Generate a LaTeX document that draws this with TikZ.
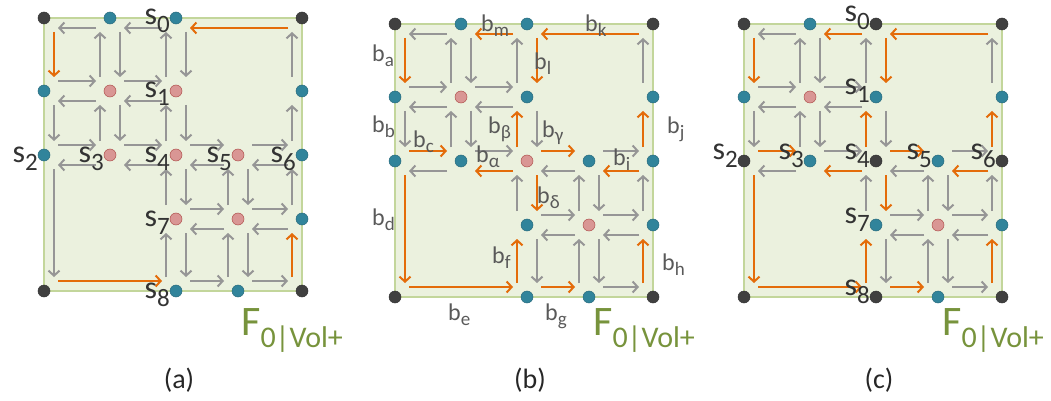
\documentclass[tikz,border=0pt]{standalone}
\usepackage{fontspec}
\setmainfont{Carlito}
\usetikzlibrary{calc,arrows.meta}
\pgfdeclarelayer{bg}
\pgfsetlayers{bg,main}
\definecolor{rectfill}{HTML}{EBF1DE}
\definecolor{rectline}{HTML}{C3D69B}
\definecolor{dkdot}{HTML}{404040}
\definecolor{bldot}{HTML}{31849B}
\definecolor{pkdot}{HTML}{D99694}
\definecolor{pkline}{HTML}{B0504D}
\definecolor{garr}{HTML}{969696}
\definecolor{oarr}{HTML}{E46C0A}
\definecolor{slab}{HTML}{333333}
\definecolor{blab}{HTML}{595959}
\definecolor{flab}{HTML}{77933C}

\newcommand\gapd{14pt}
\newcommand\insd{10pt}
\newcommand\ea[3]{\draw[flowarr, draw=#3] ($(#1.center)!\gapd!(#2.center)!\insd!90:(#2.center)$) -- ($(#2.center)!\gapd!(#1.center)!\insd!-90:(#1.center)$);}
\newcommand\placedots[4]{%
  \foreach \i/\j/\s in {#4}{
    \pgfmathsetmacro\xx{{0,66,132,194,258}[\i]}
    \pgfmathsetmacro\yy{{0,73,137,201,273}[\j]}
    \node[dot\s] (#1\i\j) at ({#2+\xx},{#3+\yy}) {};
  }}
\newcommand\ssub[1]{\raisebox{-8pt}{\fontsize{25}{25}\selectfont #1}}
\newcommand\bsub[1]{\raisebox{-5pt}{\fontsize{19}{19}\selectfont #1}}
\newcommand\fsub[1]{\raisebox{-12pt}{\fontsize{30}{30}\selectfont #1}}

\newcommand\listA{10/00/garr, 00/01/oarr, 01/11/garr, 11/10/garr,
20/10/garr, 10/11/garr, 11/21/garr, 21/20/garr,
11/01/garr, 01/02/garr, 02/12/garr, 12/11/garr,
21/11/garr, 11/12/garr, 12/22/garr, 22/21/garr,
40/20/oarr, 20/21/garr, 21/22/garr, 22/32/garr, 32/42/garr, 42/41/garr, 41/40/garr,
22/12/garr, 12/02/garr, 02/04/garr, 04/24/oarr, 24/23/garr, 23/22/garr,
32/22/garr, 22/23/garr, 23/33/garr, 33/32/garr,
42/32/garr, 32/33/garr, 33/43/garr, 43/42/garr,
33/23/garr, 23/24/garr, 24/34/garr, 34/33/garr,
43/33/garr, 33/34/garr, 34/44/garr, 44/43/oarr}
\newcommand\listBC{10/00/garr, 00/01/oarr, 01/11/garr, 11/10/garr,
20/10/oarr, 10/11/garr, 11/21/garr, 21/20/garr,
11/01/garr, 01/02/garr, 02/12/oarr, 12/11/garr,
21/11/garr, 11/12/garr, 12/22/garr, 22/21/oarr,
40/20/oarr, 20/21/oarr, 21/22/garr, 22/32/oarr, 32/42/garr, 42/41/oarr, 41/40/garr,
22/12/oarr, 12/02/garr, 02/04/oarr, 04/24/oarr, 24/23/oarr, 23/22/garr,
32/22/garr, 22/23/oarr, 23/33/garr, 33/32/garr,
42/32/oarr, 32/33/garr, 33/43/garr, 43/42/garr,
33/23/garr, 23/24/garr, 24/34/oarr, 34/33/garr,
43/33/garr, 33/34/garr, 34/44/garr, 44/43/oarr}

\tikzset{
  dotbase/.style={circle, minimum size=12pt, inner sep=0pt, line width=0.5pt},
  dotdk/.style={dotbase, fill=dkdot, draw=dkdot!80!black},
  dotbl/.style={dotbase, fill=bldot, draw=bldot!80!black},
  dotpk/.style={dotbase, fill=pkdot, draw=pkline},
  panelrect/.style={fill=rectfill, draw=rectline, line width=1.5pt},
  flowarr/.style={line width=2pt, -{Straight Barb[length=5pt,width=11pt]}},
  slabel/.style={inner sep=0pt, text=slab, font=\fontsize{32}{32}\selectfont, anchor=base east},
  blabel/.style={inner sep=0pt, text=blab, font=\fontsize{24}{24}\selectfont, anchor=base west},
  flabel/.style={inner sep=0pt, text=flab, font=\fontsize{42}{42}\selectfont, anchor=base west},
  caption/.style={inner sep=0pt, text=black!85, font=\fontsize{28}{28}\selectfont, anchor=base},
}

\begin{document}
\begin{tikzpicture}[x=1pt,y=-1pt]
\useasboundingbox (0,0) rectangle (1051,401);

% ---------- panel (a)
\placedots{a}{44}{18}{0/0/dk,1/0/bl,2/0/bl,4/0/dk,0/1/bl,1/1/pk,2/1/pk,4/1/bl,0/2/bl,1/2/pk,2/2/pk,3/2/pk,4/2/bl,2/3/pk,3/3/pk,4/3/bl,0/4/dk,2/4/bl,3/4/bl,4/4/dk}
\begin{pgfonlayer}{bg}
\draw[panelrect] (a00.center) rectangle (a44.center);
\end{pgfonlayer}
\foreach \p/\q/\s in \listA {\ea{a\p}{a\q}{\s}}

% ---------- panel (b)
\placedots{b}{395}{24}{0/0/dk,1/0/bl,2/0/bl,4/0/dk,0/1/bl,1/1/pk,2/1/bl,4/1/bl,0/2/bl,1/2/bl,2/2/pk,3/2/bl,4/2/bl,2/3/bl,3/3/pk,4/3/bl,0/4/dk,2/4/bl,3/4/bl,4/4/dk}
\begin{pgfonlayer}{bg}
\draw[panelrect] (b00.center) rectangle (b44.center);
\end{pgfonlayer}
\foreach \p/\q/\s in \listBC {\ea{b\p}{b\q}{\s}}

% ---------- panel (c)
\placedots{c}{744}{24}{0/0/dk,1/0/bl,2/0/dk,4/0/dk,0/1/bl,1/1/pk,2/1/bl,4/1/bl,0/2/dk,1/2/bl,2/2/dk,3/2/bl,4/2/dk,2/3/bl,3/3/pk,4/3/bl,0/4/dk,2/4/dk,3/4/bl,4/4/dk}
\begin{pgfonlayer}{bg}
\draw[panelrect] (c00.center) rectangle (c44.center);
\end{pgfonlayer}
\foreach \p/\q/\s in \listBC {\ea{c\p}{c\q}{\s}}

% ---------- s labels
\foreach \v/\k in {20/0,21/1,02/2,12/3,22/4,32/5,42/6,23/7,24/8}{
  \node[slabel] (sa\k) at ($(a\v.center)+(-6,7)$) {s\ssub{\k}};
  \node[slabel] (sc\k) at ($(c\v.center)+(-6,-2)$) {s\ssub{\k}};
}

% ---------- b labels
\node[blabel] (lba) at (372,62) {b\bsub{a}};
\node[blabel] (lbb) at (372,132) {b\bsub{b}};
\node[blabel] (lbd) at (372,225) {b\bsub{d}};
\node[blabel] (lbc) at (413,147) {b\bsub{c}};
\node[blabel] (lbm) at (481,32) {b\bsub{m}};
\node[blabel] (lbk) at (585,32) {b\bsub{k}};
\node[blabel] (lbl) at (534,70) {b\bsub{l}};
\node[blabel] (lbbeta) at (488,133) {b\bsub{β}};
\node[blabel] (lbgamma) at (542,137) {b\bsub{γ}};
\node[blabel] (lbalpha) at (476,162) {b\bsub{α}};
\node[blabel] (lbi) at (613,165) {b\bsub{i}};
\node[blabel] (lbj) at (667,133) {b\bsub{j}};
\node[blabel] (lbdelta) at (537,203) {b\bsub{δ}};
\node[blabel] (lbf) at (492,263) {b\bsub{f}};
\node[blabel] (lbh) at (662,270) {b\bsub{h}};
\node[blabel] (lbe) at (448,320) {b\bsub{e}};
\node[blabel] (lbg) at (545,320) {b\bsub{g}};

% ---------- F labels
\node[flabel] (fa) at (241,335) {F\fsub{0|Vol+}};
\node[flabel] (fb) at (593,335) {F\fsub{0|Vol+}};
\node[flabel] (fc) at (942,335) {F\fsub{0|Vol+}};

% ---------- captions
\node[caption] (capa) at (179,388) {(a)};
\node[caption] (capb) at (530,388) {(b)};
\node[caption] (capc) at (879,388) {(c)};
\end{tikzpicture}
\end{document}
